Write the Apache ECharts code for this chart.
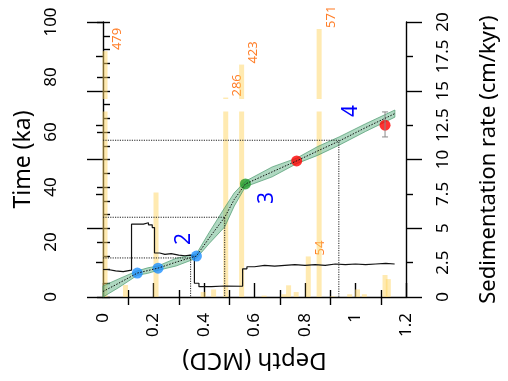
<!DOCTYPE html>
<html><head><meta charset="utf-8">
<script src="https://cdn.jsdelivr.net/npm/echarts@6/dist/echarts.min.js"></script>
<style>html,body{margin:0;padding:0;background:#fff}#c{width:508px;height:381px}</style>
</head><body><div id="c"></div>
<script>
// ---------- data ----------
// sedimentation-rate histogram (depth in MCD, rate in cm/kyr; off-scale bars keep their true value)
const barDepth = [0.008,0.089,0.21,0.397,0.438,0.486,0.549,0.638,0.716,0.735,0.765,0.813,0.856,0.908,0.977,1.008,1.035,1.117,1.13];
const barRate  = [479,0.87,7.6,0.36,0.55,286,423,0.1,0.2,0.85,0.36,2.95,571,0.05,0.2,0.55,0.2,1.6,1.3];
const barNote  = ['479','','','','','286','423','','','','','54','571','','','','','',''];
// step curve of sedimentation rate (cm/kyr)
const stepDepth = [0,0.02,0.05,0.08,0.113,0.16,0.18,0.195,0.204,0.225,0.245,0.27,0.30,0.325,0.345,0.362,0.38,0.43,0.48,0.553,0.57,0.60,0.64,0.68,0.72,0.76,0.80,0.84,0.88,0.92,0.96,1.0,1.04,1.08,1.12,1.155];
const stepRate  = [2.0,1.9,1.85,1.95,5.3,5.4,5.25,5.05,3.2,3.1,3.15,3.05,3.0,3.05,2.95,1.0,0.75,0.8,0.78,2.05,2.2,2.3,2.25,2.3,2.35,2.3,2.35,2.3,2.4,2.35,2.4,2.35,2.4,2.45,2.4,2.4];
// age model (ka)
const ageDepth  = [0,0.06,0.136,0.177,0.218,0.29,0.37,0.42,0.482,0.52,0.564,0.67,0.767,0.85,0.935,1.04,1.156];
const ageMedian = [2.0,4.9,8.7,9.6,10.5,12.7,14.9,21.4,29.0,35.5,41.1,45.5,49.5,53.1,56.7,61.6,66.7];
const ageLower  = [0.0,3.3,7.9,8.6,9.7,11.3,14.1,19.4,25.5,33.1,40.1,43.7,48.5,51.5,55.2,60.2,65.4];
const ageUpper  = [4.0,6.5,9.5,10.6,11.3,14.1,15.7,23.4,32.5,37.9,42.1,47.3,50.5,54.7,58.2,63.0,68.0];
// dated points
const ptDepth = [0.136,0.218,0.37,0.564,0.767,1.117];
const ptAge   = [8.7,10.5,14.9,41.1,49.5,62.5];
const ptGroup = ['a','a','a','b','c','c'];
const errDepth = [1.117], errLow = [58.2], errHigh = [67.3];
// tie-point guides
const guideDepth = [0.347,0.482,0.934];
const guideAge   = [14.2,29,57];
// unit labels
const unitText  = ['2','3','4'];
const unitDepth = [0.319,0.65,0.984];
const unitAge   = [21.1,36,67.6];

// ---------- style ----------
const FONT = 'Noto Sans';
const PT_COLOR = {a:'#1e90ff', b:'#1f9a2a', c:'#ff0000'};
const BAR_COLOR = 'rgba(255,214,100,0.5)';
const ORANGE = '#ff7f2a';
const BREAK_LO = 13.5, BREAK_HI = 14.4, BREAK_V0 = 280, BREAK_K = 0.0175, RATE_MAX = 20;

function barItem(params, api){
  const i = params.dataIndex, d = api.value(0), v = api.value(1);
  const w = 5, st = {fill: BAR_COLOR};
  const base = api.coord([d, 0]);
  const ch = [];
  let top;
  if (v <= RATE_MAX) {
    top = api.coord([d, v]);
    ch.push({type:'rect', shape:{x:base[0]-w/2, y:top[1], width:w, height:base[1]-top[1]}, style:st});
  } else {
    const lo = api.coord([d, BREAK_LO]), hi = api.coord([d, BREAK_HI]);
    top = api.coord([d, BREAK_HI + (v - BREAK_V0) * BREAK_K]);
    ch.push({type:'rect', shape:{x:base[0]-w/2, y:lo[1], width:w, height:base[1]-lo[1]}, style:st});
    ch.push({type:'rect', shape:{x:base[0]-w/2, y:top[1], width:w, height:hi[1]-top[1]}, style:st});
  }
  if (barNote[i]) {
    ch.push({type:'text', x: top[0]+12, y: top[1]-1, rotation: Math.PI/2,
      style:{text: barNote[i], fill: ORANGE, font: '13px "'+FONT+'"', align:'left', verticalAlign:'middle'}});
  }
  return {type:'group', children: ch};
}

const bandData = ageDepth.map((d,i)=>[d, ageLower[i], ageUpper[i]]);
function bandItem(params, api){
  if (params.dataIndex !== 0) return null;
  const pts = [];
  for (let i=0;i<ageDepth.length;i++) pts.push(api.coord([ageDepth[i], ageUpper[i]]));
  for (let i=ageDepth.length-1;i>=0;i--) pts.push(api.coord([ageDepth[i], ageLower[i]]));
  return {type:'polygon', shape:{points: pts}, style:{fill:'rgba(95,178,132,0.5)', stroke:'rgba(70,150,105,0.85)', lineWidth:0.8}};
}

function errItem(params, api){
  const d = api.value(0);
  const a = api.coord([d, api.value(1)]), b = api.coord([d, api.value(2)]);
  const st = {stroke:'#8a8a8a', lineWidth:1};
  return {type:'group', children:[
    {type:'line', shape:{x1:a[0], y1:a[1], x2:b[0], y2:b[1]}, style:st},
    {type:'line', shape:{x1:a[0]-3, y1:a[1], x2:a[0]+3, y2:a[1]}, style:st},
    {type:'line', shape:{x1:b[0]-3, y1:b[1], x2:b[0]+3, y2:b[1]}, style:st}
  ]};
}

function unitItem(params, api){
  const p = api.coord([api.value(0), api.value(1)]);
  return {type:'text', x:p[0], y:p[1], rotation: Math.PI/2,
    style:{text: unitText[params.dataIndex], fill:'#0000ff', font:'21px "'+FONT+'"', align:'center', verticalAlign:'middle'}};
}

const black = {color:'#000', width:1.4};
const lab = {fontFamily: FONT, color:'#000'};

const guideSeries = guideDepth.map((d,i)=>({
  type:'line', xAxisIndex:0, yAxisIndex:0, symbol:'none', silent:true, z:4,
  lineStyle:{color:'#222', width:1, type:[1.2,1.2]},
  data:[[0, guideAge[i]], [d, guideAge[i]], [d, 0]]
}));

const option = {
  animation:false,
  backgroundColor:'#fff',
  grid:{left:103, right:97, top:22, bottom:84, containLabel:false},
  xAxis:[
    {type:'value', min:0, max:1.2, interval:0.2, position:'bottom',
     axisLine:{show:true, onZero:false, lineStyle:black},
     axisTick:{show:true, inside:true, length:14, lineStyle:black},
     minorTick:{show:true, splitNumber:2, length:7, lineStyle:black},
     splitLine:{show:false},
     axisLabel:Object.assign({rotate:90, margin:16, fontSize:17, formatter:v=>String(Math.round(v*10)/10)}, lab),
     name:'Depth (MCD)', nameLocation:'middle', nameRotate:180, nameGap:51,
     nameTextStyle:{fontFamily:FONT, fontSize:24, color:'#000'}},
    {type:'value', min:0, max:1.2, interval:0.2, position:'bottom',
     axisLine:{show:false, onZero:false}, axisTick:{show:false, inside:false},
     minorTick:{show:true, splitNumber:2, length:8, lineStyle:black},
     splitLine:{show:false}, axisLabel:{show:false}}
  ],
  yAxis:[
    {type:'value', min:0, max:100, interval:20, position:'left',
     axisLine:{show:true, onZero:false, lineStyle:black},
     axisTick:{show:true, inside:false, length:6, lineStyle:black},
     splitLine:{show:false},
     axisLabel:Object.assign({rotate:90, margin:43, fontSize:17}, lab),
     name:'Time (ka)', nameLocation:'middle', nameRotate:90, nameGap:68,
     nameTextStyle:{fontFamily:FONT, fontSize:23, color:'#000'}},
    {type:'value', min:0, max:100, interval:5, position:'left',
     axisLine:{show:false}, axisTick:{show:true, inside:true, length:7, lineStyle:black},
     splitLine:{show:false}, axisLabel:{show:false}},
    {type:'value', min:0, max:20, interval:5, position:'right',
     axisLine:{show:true, onZero:false, lineStyle:black},
     axisTick:{show:true, inside:false, length:16, lineStyle:black},
     minorTick:{show:true, splitNumber:2, length:7, lineStyle:black},
     splitLine:{show:false}, axisLabel:{show:false},
     name:'Sedimentation rate (cm/kyr)', nameLocation:'middle', nameRotate:90, nameGap:72,
     nameTextStyle:{fontFamily:FONT, fontSize:22, color:'#000'}},
    {type:'value', min:0, max:20, interval:5, position:'right',
     axisLine:{show:false}, axisTick:{show:true, inside:true, length:16, lineStyle:black},
     minorTick:{show:true, splitNumber:2, length:7, lineStyle:black},
     splitLine:{show:false}, axisLabel:{show:false}},
    {type:'value', min:0, max:20, interval:2.5, position:'right',
     axisLine:{show:false}, axisTick:{show:false}, splitLine:{show:false},
     axisLabel:Object.assign({rotate:90, margin:29, fontSize:17}, lab)}
  ],
  series:[
    {type:'custom', name:'rate bars', xAxisIndex:0, yAxisIndex:2, z:1, silent:true, clip:false,
     renderItem:barItem, data: barDepth.map((d,i)=>[d, barRate[i]])},
    {type:'custom', name:'age band', xAxisIndex:0, yAxisIndex:0, z:2, silent:true,
     renderItem:bandItem, data: bandData},
    {type:'line', name:'sed rate', xAxisIndex:0, yAxisIndex:2, z:3, step:'end', symbol:'none', silent:true,
     lineStyle:{color:'#111', width:1.2}, data: stepDepth.map((d,i)=>[d, stepRate[i]])},
    ...guideSeries,
    {type:'scatter', name:'dates', xAxisIndex:0, yAxisIndex:0, z:5, symbolSize:11, silent:true,
     data: ptDepth.map((d,i)=>({value:[d, ptAge[i]], itemStyle:{color:PT_COLOR[ptGroup[i]]}}))},
    {type:'line', name:'median', xAxisIndex:0, yAxisIndex:0, z:6, symbol:'none', silent:true,
     lineStyle:{color:'#111', width:1, type:[1.5,1.5]}, data: ageDepth.map((d,i)=>[d, ageMedian[i]])},
    {type:'custom', name:'errors', xAxisIndex:0, yAxisIndex:0, z:6, silent:true,
     renderItem:errItem, data: errDepth.map((d,i)=>[d, errLow[i], errHigh[i]])},
    {type:'custom', name:'units', xAxisIndex:0, yAxisIndex:0, z:7, silent:true,
     renderItem:unitItem, data: unitDepth.map((d,i)=>[d, unitAge[i]])}
  ]
};
const chart = echarts.init(document.getElementById('c'), null, {renderer:'canvas'});
chart.setOption(option);
</script></body></html>
